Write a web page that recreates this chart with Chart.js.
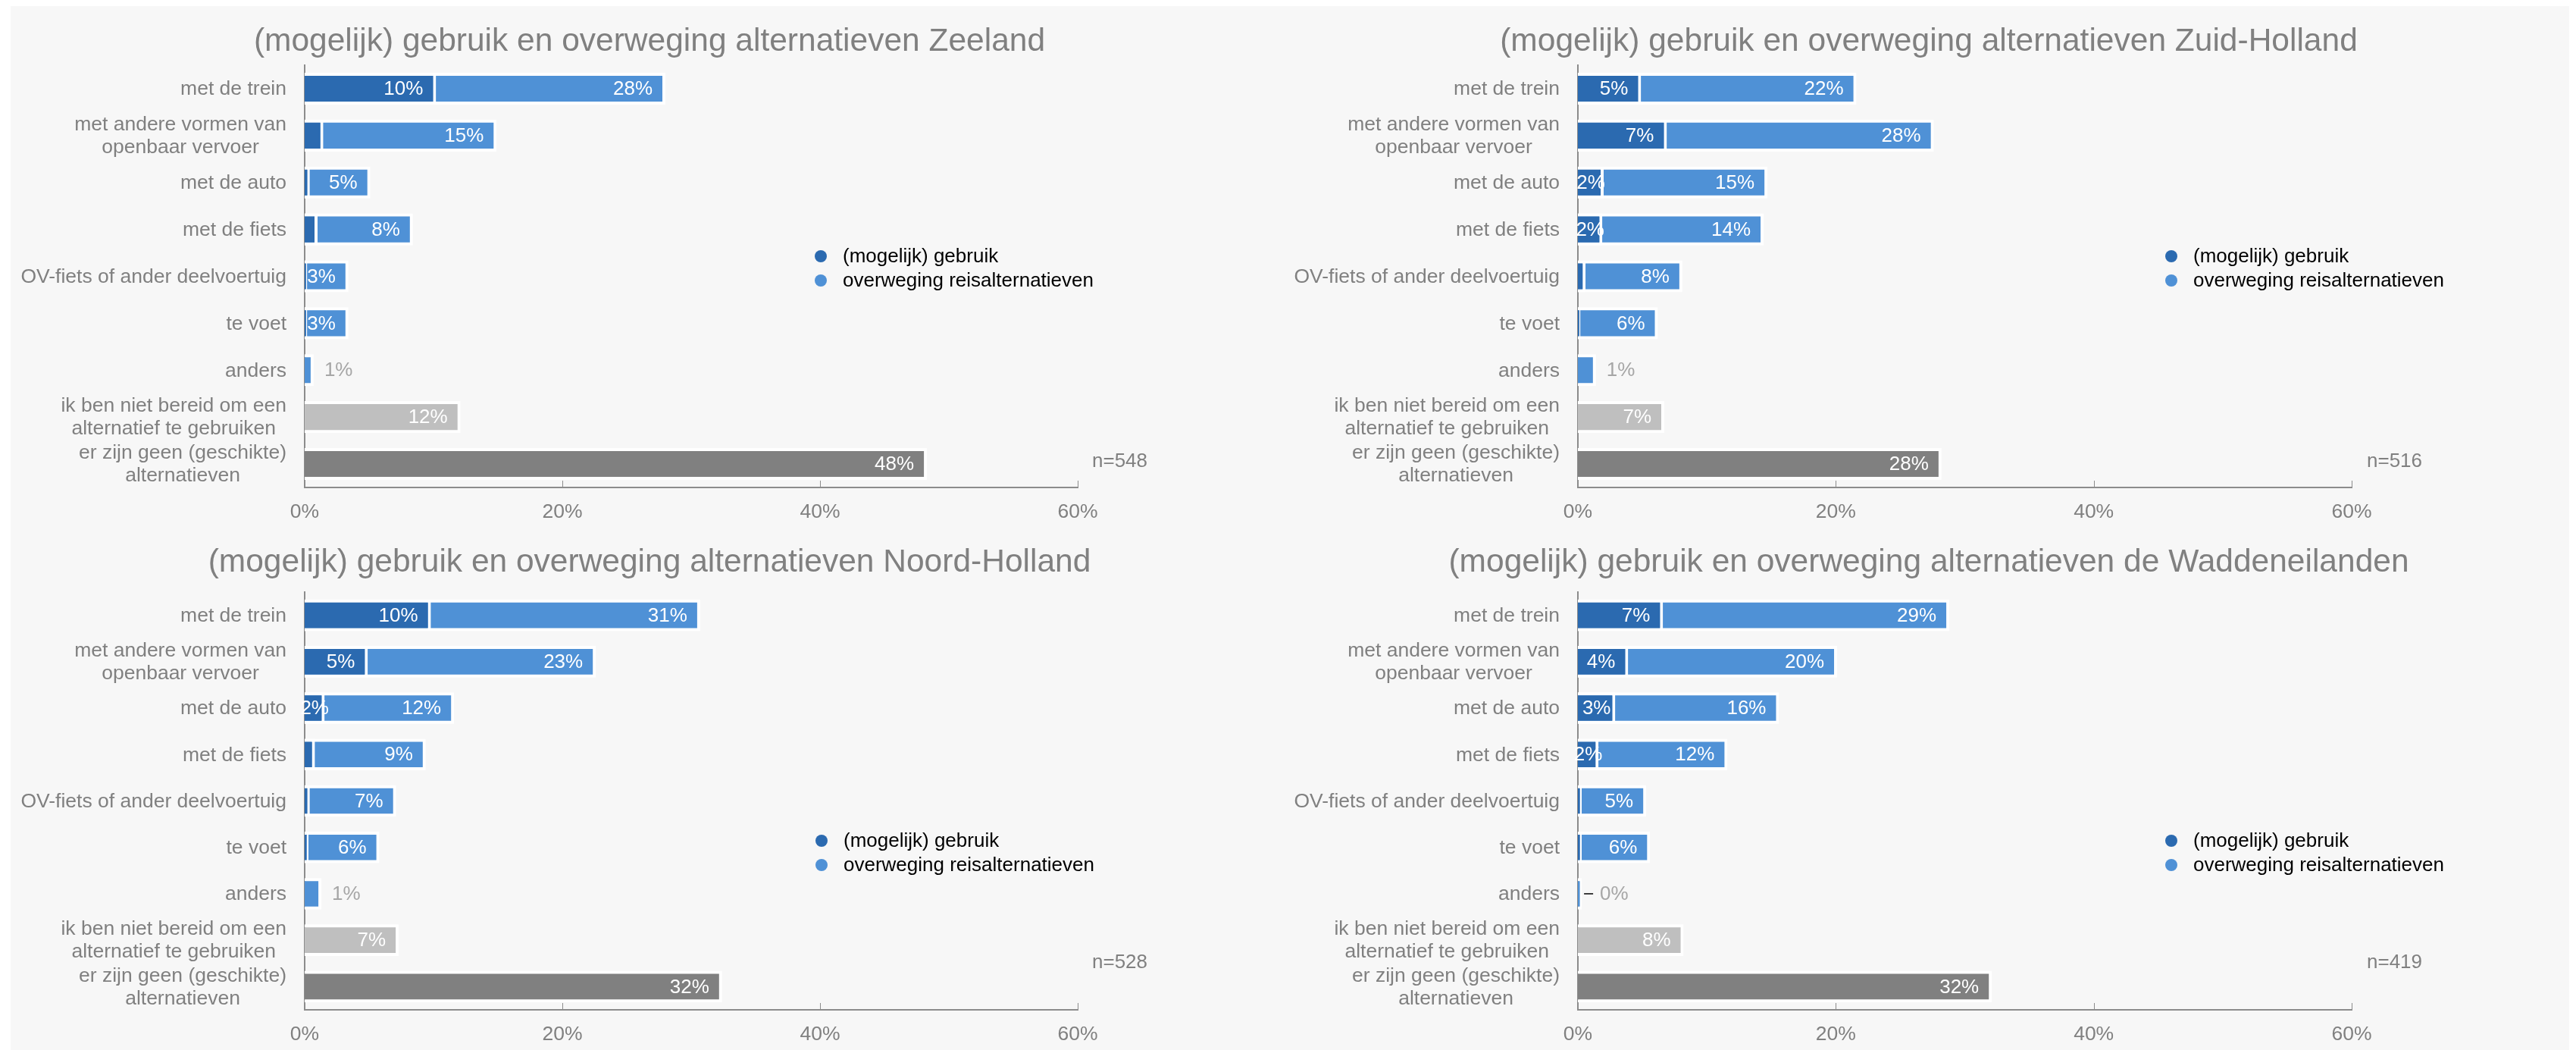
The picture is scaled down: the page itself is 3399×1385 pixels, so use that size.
<!DOCTYPE html>
<html>
<head>
<meta charset="utf-8">
<title>(mogelijk) gebruik en overweging alternatieven</title>
<script src="https://cdn.jsdelivr.net/npm/chart.js@4.4.1/dist/chart.umd.min.js"></script>
<style>
  body { margin: 0; background: #ffffff; }
  #wrap { position: absolute; left: 14px; top: 8px; width: 3376px; height: 1377px; background: #f7f7f7; }
  .panel { position: absolute; }
</style>
</head>
<body>
<div id="wrap">
  <div class="panel" style="left:0;top:0;width:1686px;height:684px"><canvas id="c_zeeland"></canvas></div>
  <div class="panel" style="left:1686px;top:0;width:1690px;height:684px"><canvas id="c_zuidholland"></canvas></div>
  <div class="panel" style="left:0;top:684px;width:1686px;height:693px"><canvas id="c_noordholland"></canvas></div>
  <div class="panel" style="left:1686px;top:684px;width:1690px;height:693px"><canvas id="c_wadden"></canvas></div>
</div>
<script>
// ---------------- data ----------------
var categories = [
  ['met de trein'],
  ['met andere vormen van', 'openbaar vervoer'],
  ['met de auto'],
  ['met de fiets'],
  ['OV-fiets of ander deelvoertuig'],
  ['te voet'],
  ['anders'],
  ['ik ben niet bereid om een', 'alternatief te gebruiken'],
  ['er zijn geen (geschikte)', 'alternatieven']
];
var seriesNames = ['(mogelijk) gebruik', 'overweging reisalternatieven'];
var tickValues = [0, 20, 40, 60];

var zeelandGebruik    = [10.2, 1.45, 0.4, 1.0, 0.2, 0.2, null, null, null];
var zeelandOverweging = [28.0, 14.9, 5.1, 8.4, 3.4, 3.4, 0.7, null, null];
var zeelandOverig     = [null, null, null, null, null, null, null, 12.1, 48.3];

var zuidHollandGebruik    = [4.9, 6.9, 2.0, 1.9, 0.6, 0.2, null, null, null];
var zuidHollandOverweging = [21.6, 27.6, 14.7, 14.4, 8.1, 6.2, 1.4, null, null];
var zuidHollandOverig     = [null, null, null, null, null, null, null, 6.7, 28.2];

var noordHollandGebruik    = [9.8, 4.9, 1.55, 0.8, 0.4, 0.3, null, null, null];
var noordHollandOverweging = [30.7, 22.6, 11.6, 9.4, 7.1, 5.8, 1.3, null, null];
var noordHollandOverig     = [null, null, null, null, null, null, null, 7.3, 32.4];

var waddenGebruik    = [6.6, 3.9, 2.9, 1.6, 0.3, 0.3, null, null, null];
var waddenOverweging = [28.8, 20.1, 15.6, 11.6, 5.3, 5.6, 0.3, null, null];
var waddenOverig     = [null, null, null, null, null, null, null, 8.2, 32.1];

var sampleSizes = [548, 516, 528, 419];

// ---------------- style ----------------
var fontFamily = "'Liberation Sans', Arial, Helvetica, sans-serif";
var darkBlue = '#2b6ab0';
var lightBlue = '#4f91d6';
var lightGrey = '#bfbfbf';
var darkGrey = '#808080';
var textGrey = '#808080';
var axisGrey = '#8c8c8c';

Chart.defaults.font.family = fontFamily;
Chart.defaults.font.size = 26.5;
Chart.defaults.color = textGrey;

var panels = [
  { id: 'c_zeeland', region: 'Zeeland', gebruik: zeelandGebruik, overweging: zeelandOverweging, overig: zeelandOverig, n: sampleSizes[0],
    axisX: 388, padRight: 278, padTop: 78, titleY: 47, xHeight: 49, legendX: 1069, legendY: 330, nX: 1427, nY: 601 },
  { id: 'c_zuidholland', region: 'Zuid-Holland', gebruik: zuidHollandGebruik, overweging: zuidHollandOverweging, overig: zuidHollandOverig, n: sampleSizes[1],
    axisX: 382, padRight: 287, padTop: 78, titleY: 47, xHeight: 49, legendX: 1165, legendY: 330, nX: 1423, nY: 601 },
  { id: 'c_noordholland', region: 'Noord-Holland', gebruik: noordHollandGebruik, overweging: noordHollandOverweging, overig: noordHollandOverig, n: sampleSizes[2],
    axisX: 388, padRight: 278, padTop: 89, titleY: 50, xHeight: 53, legendX: 1070, legendY: 417, nX: 1427, nY: 578 },
  { id: 'c_wadden', region: 'de Waddeneilanden', gebruik: waddenGebruik, overweging: waddenOverweging, overig: waddenOverig, n: sampleSizes[3],
    axisX: 382, padRight: 287, padTop: 89, titleY: 50, xHeight: 53, legendX: 1165, legendY: 417, nX: 1423, nY: 578 }
];

// title, labels, legend, inward ticks and n= drawn on top of the bars
function extrasPlugin(p) {
  return {
    id: 'extras',
    afterDatasetsDraw: function (chart) {
      var c = chart.ctx;
      var area = chart.chartArea;
      var xs = chart.scales.x;
      var ys = chart.scales.y;
      c.save();
      c.textBaseline = 'middle';

      // title, centred on the whole panel
      c.font = '42.5px ' + fontFamily;
      c.fillStyle = textGrey;
      c.textAlign = 'center';
      c.fillText('(mogelijk) gebruik en overweging alternatieven ' + p.region, chart.width / 2, p.titleY);

      c.font = '26px ' + fontFamily;

      // value labels
      chart.data.datasets.forEach(function (ds, d) {
        var meta = chart.getDatasetMeta(d);
        meta.data.forEach(function (bar, i) {
          var v = ds.data[i];
          if (v === null || v === undefined) return;
          if (d === 0 && v < 1.5) return;
          var txt = Math.round(v) + '%';
          var w = c.measureText(txt).width;
          var tx;
          if (d !== 0 && v < 2) {
            c.fillStyle = '#a6a6a6';
            tx = bar.x + 14;
            if (v < 0.5) {
              c.strokeStyle = '#000000';
              c.lineWidth = 1.5;
              c.beginPath();
              c.moveTo(bar.x + 3, bar.y);
              c.lineTo(bar.x + 15, bar.y);
              c.stroke();
              tx = bar.x + 24;
            }
          } else {
            c.fillStyle = '#ffffff';
            tx = bar.x - 17 - w;
            if (tx < bar.base) tx = (bar.base + bar.x) / 2 - w / 2;
          }
          c.textAlign = 'left';
          c.fillText(txt, tx, bar.y + 1);
        });
      });

      // category labels: block right aligned, lines centred on each other
      c.font = '26.5px ' + fontFamily;
      c.fillStyle = textGrey;
      c.textAlign = 'center';
      categories.forEach(function (lines, i) {
        var y = ys.getPixelForValue(i);
        var bw = 0;
        lines.forEach(function (l) { bw = Math.max(bw, c.measureText(l).width); });
        var cx = area.left - 24 - bw / 2;
        var y0 = y - (lines.length - 1) * 15;
        lines.forEach(function (l, k) { c.fillText(l, cx, y0 + k * 30 + 1); });
      });

      // tick marks pointing inward
      c.strokeStyle = axisGrey;
      c.lineWidth = 1;
      tickValues.slice(1).forEach(function (v) {
        var px = Math.round(xs.getPixelForValue(v)) + 0.5;
        c.beginPath();
        c.moveTo(px, area.bottom);
        c.lineTo(px, area.bottom - 9);
        c.stroke();
      });

      // legend
      var colors = [darkBlue, lightBlue];
      c.font = '26px ' + fontFamily;
      c.textAlign = 'left';
      seriesNames.forEach(function (name, k) {
        var ly = p.legendY + k * 32;
        c.fillStyle = colors[k];
        c.beginPath();
        c.arc(p.legendX, ly, 8, 0, Math.PI * 2);
        c.fill();
        c.fillStyle = '#000000';
        c.fillText(name, p.legendX + 29, ly + 1);
      });

      // sample size
      c.fillStyle = textGrey;
      c.fillText('n=' + p.n, p.nX, p.nY);
      c.restore();
    }
  };
}

function makeChart(p) {
  var ctx = document.getElementById(p.id).getContext('2d');
  return new Chart(ctx, {
    type: 'bar',
    data: {
      labels: categories,
      datasets: [
        { label: seriesNames[0], data: p.gebruik, backgroundColor: darkBlue },
        { label: seriesNames[1], data: p.overweging, backgroundColor: lightBlue },
        { label: 'overig', data: p.overig, backgroundColor: p.overig.map(function (v, i) { return i === 7 ? lightGrey : darkGrey; }) }
      ]
    },
    options: {
      indexAxis: 'y',
      responsive: true,
      maintainAspectRatio: false,
      animation: false,
      layout: { padding: { left: 0, right: p.padRight, top: p.padTop, bottom: 0 } },
      datasets: {
        bar: {
          categoryPercentage: 1,
          barPercentage: 0.68,
          borderColor: '#ffffff',
          borderWidth: 4,
          borderSkipped: 'start'
        }
      },
      scales: {
        x: {
          min: 0,
          max: 60,
          afterBuildTicks: function (s) { s.ticks = tickValues.map(function (v) { return { value: v }; }); },
          afterFit: function (s) { s.height = p.xHeight; },
          ticks: { color: textGrey, padding: 17, callback: function (v) { return v + '%'; } },
          grid: { display: false, drawTicks: false },
          border: { color: axisGrey, width: 2 }
        },
        y: {
          stacked: true,
          afterFit: function (s) { s.width = p.axisX; },
          ticks: { display: false },
          grid: { display: false, drawTicks: false },
          border: { color: axisGrey, width: 2 }
        }
      },
      plugins: {
        legend: { display: false },
        tooltip: { enabled: false },
        title: { display: false }
      }
    },
    plugins: [extrasPlugin(p)]
  });
}

panels.forEach(makeChart);
</script>
</body>
</html>
